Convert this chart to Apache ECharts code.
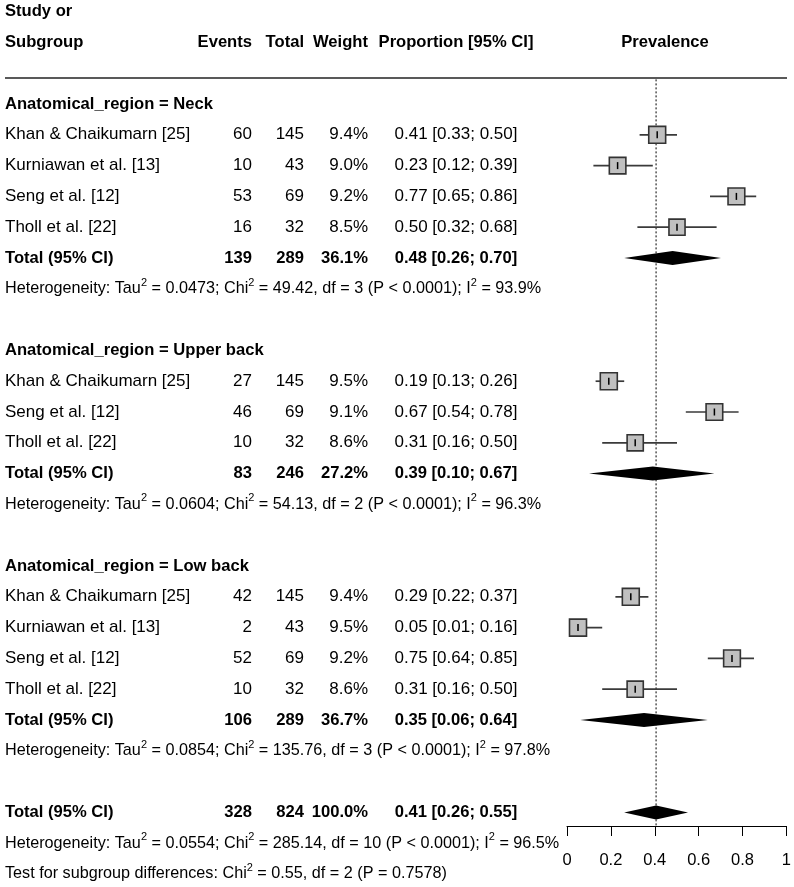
<!DOCTYPE html>
<html>
<head>
<meta charset="utf-8">
<script src="https://cdn.jsdelivr.net/npm/echarts@6/dist/echarts.min.js"></script>
<style>
html, body { margin: 0; padding: 0; background: #fff; }
#main { width: 794px; height: 887px; }
</style>
</head>
<body>
<div id="main"></div>
<script>
// --- data ---
const groupNames = ["Neck", "Upper back", "Low back"];

const neckStudies = ["Khan & Chaikumarn [25]", "Kurniawan et al. [13]", "Seng et al. [12]", "Tholl et al. [22]"];
const neckEvents = [60, 10, 53, 16];
const neckTotal = [145, 43, 69, 32];
const neckWeight = [9.4, 9.0, 9.2, 8.5];
const neckProp = [0.41, 0.23, 0.77, 0.50];
const neckLower = [0.33, 0.12, 0.65, 0.32];
const neckUpper = [0.50, 0.39, 0.86, 0.68];

const upperStudies = ["Khan & Chaikumarn [25]", "Seng et al. [12]", "Tholl et al. [22]"];
const upperEvents = [27, 46, 10];
const upperTotal = [145, 69, 32];
const upperWeight = [9.5, 9.1, 8.6];
const upperProp = [0.19, 0.67, 0.31];
const upperLower = [0.13, 0.54, 0.16];
const upperUpper = [0.26, 0.78, 0.50];

const lowStudies = ["Khan & Chaikumarn [25]", "Kurniawan et al. [13]", "Seng et al. [12]", "Tholl et al. [22]"];
const lowEvents = [42, 2, 52, 10];
const lowTotal = [145, 43, 69, 32];
const lowWeight = [9.4, 9.5, 9.2, 8.6];
const lowProp = [0.29, 0.05, 0.75, 0.31];
const lowLower = [0.22, 0.01, 0.64, 0.16];
const lowUpper = [0.37, 0.16, 0.85, 0.50];

const subEvents = [139, 83, 106];
const subTotal = [289, 246, 289];
const subWeight = [36.1, 27.2, 36.7];
const subProp = [0.48, 0.39, 0.35];
const subLower = [0.26, 0.10, 0.06];
const subUpper = [0.70, 0.67, 0.64];
const subTau2 = ["0.0473", "0.0604", "0.0854"];
const subChi2 = ["49.42", "54.13", "135.76"];
const subDf = [3, 2, 3];
const subI2 = ["93.9%", "96.3%", "97.8%"];

const overallEvents = 328;
const overallTotal = 824;
const overallWeight = 100.0;
const overallProp = 0.405; // printed as 0.41
const overallLower = 0.26;
const overallUpper = 0.55;
const overallHet = { tau2: "0.0554", chi2: "285.14", df: 10, i2: "96.5%" };
const subgroupTest = { chi2: "0.55", df: 2, p: "0.7578" };

// --- rows ---
const groups = [
	{ studies: neckStudies, events: neckEvents, total: neckTotal, weight: neckWeight, prop: neckProp, lower: neckLower, upper: neckUpper },
	{ studies: upperStudies, events: upperEvents, total: upperTotal, weight: upperWeight, prop: upperProp, lower: upperLower, upper: upperUpper },
	{ studies: lowStudies, events: lowEvents, total: lowTotal, weight: lowWeight, prop: lowProp, lower: lowLower, upper: lowUpper }
];

function ci(p, l, u) {
	return p.toFixed(2) + " [" + l.toFixed(2) + "; " + u.toFixed(2) + "]";
}
function het(tau2, chi2, df, i2) {
	return "{n|Heterogeneity: Tau}{s|2}{n| = " + tau2 + "; Chi}{s|2}{n| = " + chi2 +
		", df = " + df + " (P < 0.0001); I}{s|2}{n| = " + i2 + "}";
}

let textRows = [];
let studyMarks = [];
let diamonds = [];
let r = 0;
textRows.push({ row: -3, kind: "head", cells: ["Study or"] });
textRows.push({ row: -2, kind: "head", cells: ["Subgroup", "Events", "Total", "Weight", "Proportion [95% CI]", "Prevalence"] });
groups.forEach(function(g, gi) {
	textRows.push({ row: r++, kind: "group", cells: ["Anatomical_region = " + groupNames[gi]] });
	g.studies.forEach(function(s, i) {
		textRows.push({ row: r, kind: "study", cells: [s, String(g.events[i]), String(g.total[i]), g.weight[i].toFixed(1) + "%", ci(g.prop[i], g.lower[i], g.upper[i])] });
		studyMarks.push([g.prop[i], r, g.lower[i], g.upper[i], g.weight[i]]);
		r++;
	});
	textRows.push({ row: r, kind: "total", cells: ["Total (95% CI)", String(subEvents[gi]), String(subTotal[gi]), subWeight[gi].toFixed(1) + "%", ci(subProp[gi], subLower[gi], subUpper[gi])] });
	diamonds.push([subProp[gi], r, subLower[gi], subUpper[gi]]);
	r++;
	textRows.push({ row: r++, kind: "het", cells: [het(subTau2[gi], subChi2[gi], subDf[gi], subI2[gi])] });
	r++;
});
textRows.push({ row: r, kind: "total", cells: ["Total (95% CI)", String(overallEvents), String(overallTotal), overallWeight.toFixed(1) + "%", ci(overallProp, overallLower, overallUpper).replace("0.40 ", "0.41 ")] });
diamonds.push([overallProp, r, overallLower, overallUpper]);
r++;
textRows.push({ row: r++, kind: "het", cells: [het(overallHet.tau2, overallHet.chi2, overallHet.df, overallHet.i2)] });
textRows.push({ row: r++, kind: "het", cells: ["{n|Test for subgroup differences: Chi}{s|2}{n| = " + subgroupTest.chi2 + ", df = " + subgroupTest.df + " (P = " + subgroupTest.p + ")}"] });

// column x positions and alignment
const colX = [5, 252, 304, 368, 456, 665];
const colAlign = ["left", "right", "right", "right", "center", "center"];
const FONT = '"Liberation Sans", Arial, sans-serif';

const chart = echarts.init(document.getElementById("main"));

chart.setOption({
	animation: false,
	backgroundColor: "#fff",
	grid: [
		{ left: 567, width: 220, top: 11.6, height: 862.4 },
		{ left: 567, width: 220, top: 790, height: 36 }
	],
	xAxis: [
		{ gridIndex: 0, type: "value", min: 0, max: 1, show: false },
		{
			gridIndex: 1, type: "value", min: 0, max: 1, interval: 0.2,
			axisLine: { show: true, lineStyle: { color: "#000", width: 1 } },
			axisTick: { show: true, length: 10, lineStyle: { color: "#000", width: 1 } },
			axisLabel: { fontSize: 16.5, color: "#000", fontFamily: FONT, margin: 26, showMinLabel: true, showMaxLabel: true },
			splitLine: { show: false }
		}
	],
	yAxis: [
		{ gridIndex: 0, type: "value", min: -3, max: 25, inverse: true, show: false },
		{ gridIndex: 1, type: "value", min: 0, max: 1, show: false }
	],
	graphic: [
		{ type: "line", shape: { x1: 5, y1: 78, x2: 787, y2: 78 }, style: { stroke: "#222", lineWidth: 1.5 } }
	],
	series: [
		{
			// reference line at pooled estimate
			type: "line", xAxisIndex: 0, yAxisIndex: 0, symbol: "none", silent: true,
			data: [[overallProp, -0.8], [overallProp, 23.45]],
			lineStyle: { color: "#555", width: 1.5, type: [2, 2] },
			z: 1
		},
		{
			type: "custom", xAxisIndex: 0, yAxisIndex: 0, silent: true, z: 3,
			data: studyMarks,
			renderItem: function(params, api) {
				const c = api.coord([api.value(0), api.value(1)]);
				const lo = api.coord([api.value(2), api.value(1)]);
				const hi = api.coord([api.value(3), api.value(1)]);
				const s = 17 * Math.sqrt(api.value(4) / 9.5);
				return {
					type: "group",
					children: [
						{ type: "line", shape: { x1: lo[0], y1: c[1], x2: hi[0], y2: c[1] }, style: { stroke: "#3a3a3a", lineWidth: 1.7 } },
						{ type: "rect", shape: { x: c[0] - s / 2, y: c[1] - s / 2, width: s, height: s }, style: { fill: "#c0c0c0", stroke: "#333", lineWidth: 1.6 } },
						{ type: "line", shape: { x1: c[0], y1: c[1] - 3.5, x2: c[0], y2: c[1] + 3.5 }, style: { stroke: "#000", lineWidth: 1.5 } }
					]
				};
			}
		},
		{
			type: "custom", xAxisIndex: 0, yAxisIndex: 0, silent: true, z: 3,
			data: diamonds,
			renderItem: function(params, api) {
				const c = api.coord([api.value(0), api.value(1)]);
				const lo = api.coord([api.value(2), api.value(1)]);
				const hi = api.coord([api.value(3), api.value(1)]);
				const h = 7;
				return {
					type: "polygon",
					shape: { points: [[lo[0], c[1]], [c[0], c[1] - h], [hi[0], c[1]], [c[0], c[1] + h]] },
					style: { fill: "#000" }
				};
			}
		},
		{
			type: "custom", xAxisIndex: 0, yAxisIndex: 0, silent: true, z: 4, clip: false,
			data: textRows.map(function(t) { return [0, t.row]; }),
			renderItem: function(params, api) {
				const t = textRows[params.dataIndex];
				const y = api.coord([0, t.row])[1];
				const bold = t.kind === "head" || t.kind === "group" || t.kind === "total";
				const children = t.cells.map(function(txt, ci) {
					if (t.kind === "het") {
						return {
							type: "text", x: 5, y: y,
							style: {
								text: txt, textAlign: "left", textVerticalAlign: "middle",
								rich: {
									n: { fontSize: 16.2, fontFamily: FONT, fill: "#000", lineHeight: 18 },
									s: { fontSize: 11, fontFamily: FONT, fill: "#000", padding: [0, 0, 12, 0] }
								}
							}
						};
					}
					return {
						type: "text", x: colX[ci], y: y,
						style: {
							text: txt, textAlign: colAlign[ci], textVerticalAlign: "middle",
							fontSize: bold ? 16.6 : 17, fontWeight: bold ? "bold" : "normal",
							fontFamily: FONT, fill: "#000"
						}
					};
				});
				return { type: "group", children: children };
			}
		},
		{ type: "scatter", xAxisIndex: 1, yAxisIndex: 1, data: [] }
	]
});
</script>
</body>
</html>
